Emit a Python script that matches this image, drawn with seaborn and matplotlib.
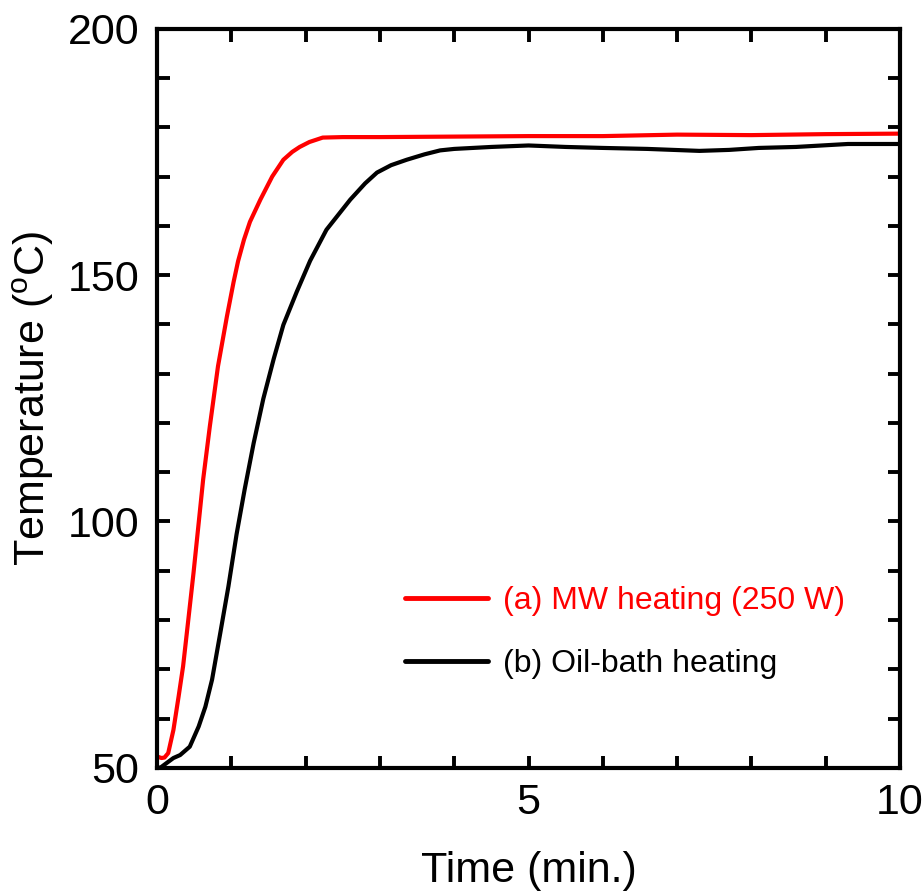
import numpy as np
import pandas as pd
import matplotlib
matplotlib.use("Agg")
import matplotlib.pyplot as plt
import seaborn as sns
from matplotlib.ticker import MultipleLocator

# (a) MW heating (250 W)
mw_time = [0.0, 0.06, 0.10, 0.15, 0.22, 0.29, 0.35, 0.42, 0.49, 0.56, 0.62,
           0.71, 0.82, 0.94, 1.03, 1.09, 1.17, 1.25, 1.39, 1.55, 1.70, 1.82, 1.92,
           2.05, 2.23, 2.5, 3.0, 4.0, 5.0, 6.0, 7.0, 8.0, 9.0, 10.0]
mw_temp = [52.3, 52.0, 52.1, 53.0, 57.7, 64.5, 70.6, 80.0, 89.5, 99.7, 108.5,
           119.3, 131.5, 141.6, 148.6, 152.8, 157.2, 160.8, 165.3, 170.0, 173.4, 175.0, 176.0,
           177.0, 177.9, 178.0, 178.0, 178.1, 178.2, 178.2, 178.5, 178.4, 178.6, 178.7]

# (b) Oil-bath heating
oil_time = [0.0, 0.05, 0.13, 0.22, 0.31, 0.44, 0.56, 0.65, 0.74, 0.85, 0.96,
            1.07, 1.18, 1.30, 1.43, 1.57, 1.70, 1.88, 2.06, 2.28, 2.60, 2.80,
            2.96, 3.15, 3.36, 3.6, 3.81, 4.0, 4.5, 5.0, 5.5, 6.0, 6.6, 7.3, 7.7,
            8.1, 8.6, 9.3, 10.0]
oil_temp = [50.0, 50.1, 51.0, 52.0, 52.6, 54.3, 58.4, 62.4, 67.9, 77.3, 86.8,
            97.4, 106.6, 115.9, 124.9, 133.0, 139.9, 146.6, 152.9, 159.2, 165.3, 168.6,
            170.8, 172.3, 173.4, 174.5, 175.3, 175.6, 176.0, 176.3, 176.0, 175.8, 175.6, 175.2, 175.4,
            175.8, 176.0, 176.6, 176.6]

labels = ["(a) MW heating (250 W)", "(b) Oil-bath heating"]
colors = ["#ff0000", "#000000"]

df = pd.concat([
    pd.DataFrame({"time": mw_time, "temp": mw_temp, "series": labels[0]}),
    pd.DataFrame({"time": oil_time, "temp": oil_temp, "series": labels[1]}),
])

sns.set_style("ticks", rc={"text.color": "black", "axes.labelcolor": "black",
                           "xtick.color": "black", "ytick.color": "black",
                           "axes.edgecolor": "black"})
plt.rcParams["font.family"] = ["Liberation Sans", "DejaVu Sans"]
plt.rcParams["mathtext.fontset"] = "custom"
plt.rcParams["mathtext.rm"] = "Liberation Sans"

fig = plt.figure(figsize=(9.24, 8.96), dpi=100)
ax = fig.add_axes([0.170, 0.143, 0.804, 0.825])

sns.lineplot(data=df, x="time", y="temp", hue="series", palette=colors,
             linewidth=3, ax=ax, sort=False)

ax.set_xlim(0, 10)
ax.set_ylim(50, 200)
ax.xaxis.set_major_locator(MultipleLocator(5))
ax.xaxis.set_minor_locator(MultipleLocator(1))
ax.yaxis.set_major_locator(MultipleLocator(50))
ax.yaxis.set_minor_locator(MultipleLocator(10))

for s in ax.spines.values():
    s.set_visible(True)
    s.set_linewidth(3)
ax.tick_params(which="both", direction="in", top=True, right=True,
               length=9, width=2.8, labelsize=31)
ax.tick_params(axis="x", pad=11)
ax.tick_params(axis="y", pad=13)

ax.set_xlabel("Time (min.)", fontsize=31, labelpad=20)
ax.set_ylabel(r"Temperature ($\mathregular{^{o}}$C)", fontsize=31, labelpad=8)

leg = ax.legend(loc="center left", bbox_to_anchor=(0.334, 0.183), frameon=False,
                fontsize=23, handlelength=2.6, labelspacing=1.05, handletextpad=0.45,
                borderpad=0, borderaxespad=0)
for line, text, c in zip(leg.get_lines(), leg.get_texts(), colors):
    line.set_linewidth(3.5)
    text.set_color(c)

fig.savefig("out.png", dpi=100)
